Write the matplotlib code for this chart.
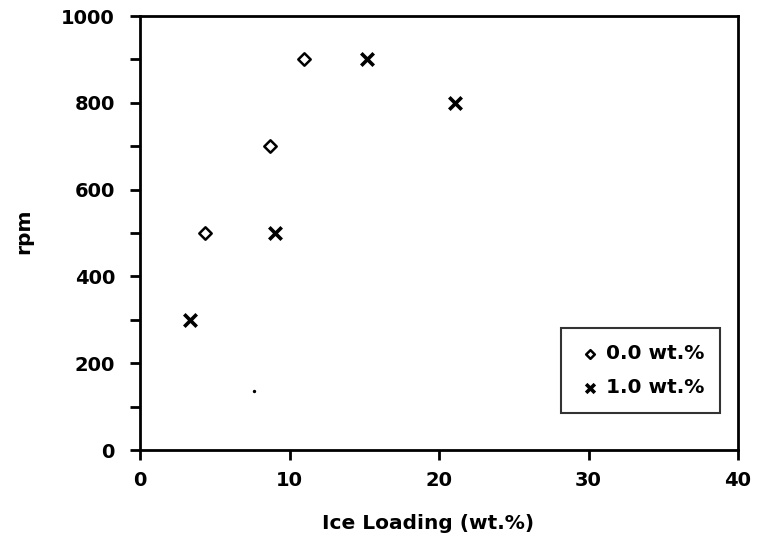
import matplotlib
matplotlib.use("Agg")
import matplotlib.pyplot as plt
from matplotlib.ticker import MultipleLocator

plt.rcParams["font.family"] = ["DejaVu Sans"]
plt.rcParams["font.weight"] = "bold"

# 0.0 wt.% series (diamonds)
x_00 = [4.35, 8.7, 11.0]
y_00 = [500, 700, 900]
# 1.0 wt.% series (crosses)
x_10 = [3.35, 9.0, 15.2, 21.1]
y_10 = [300, 500, 900, 800]
# small speck visible in the scan
x_speck = [7.6]
y_speck = [137]

fig = plt.figure(figsize=(7.58, 5.4), dpi=100)
ax = fig.add_axes([140 / 758, 1 - 450 / 540, 598 / 758, 434 / 540])

ax.scatter(x_00, y_00, marker="D", s=40, facecolors="white",
           edgecolors="black", linewidths=1.8, label="0.0 wt.%", zorder=3)
ax.scatter(x_10, y_10, marker="x", s=80, color="black",
           linewidths=2.6, label="1.0 wt.%", zorder=3)
ax.scatter(x_speck, y_speck, marker="o", s=2, color="black", zorder=3)

ax.set_xlim(0, 40)
ax.set_ylim(0, 1000)
ax.xaxis.set_major_locator(MultipleLocator(10))
ax.yaxis.set_major_locator(MultipleLocator(200))
ax.yaxis.set_minor_locator(MultipleLocator(100))
ax.tick_params(axis="both", which="both", direction="out", width=2,
               labelsize=14, top=False, right=False)
ax.tick_params(axis="both", which="major", length=7)
ax.tick_params(axis="x", which="major", pad=8)
ax.tick_params(axis="y", which="major", pad=11)
ax.tick_params(axis="y", which="minor", length=7)
for lab in ax.get_xticklabels() + ax.get_yticklabels():
    lab.set_fontweight("bold")
for sp in ax.spines.values():
    sp.set_linewidth(2)

ax.set_xlabel("Ice Loading (wt.%)", fontsize=14.5, fontweight="bold")
ax.xaxis.set_label_coords((428 - 140) / 598, -(514 - 450) / 434)
ax.set_ylabel("rpm", fontsize=14.5, fontweight="bold")
ax.yaxis.set_label_coords(-(140 - 33) / 598, (450 - 231) / 434)

leg = ax.legend(loc="lower right", bbox_to_anchor=(0.97, 0.085),
                borderaxespad=0, frameon=True, fancybox=False,
                edgecolor="black", fontsize=14.5, handletextpad=0.1,
                handlelength=1.3, borderpad=0.8, labelspacing=0.75,
                markerscale=0.7)
leg.get_frame().set_linewidth(1.5)
for t in leg.get_texts():
    t.set_fontweight("bold")

fig.savefig("out.png", dpi=100)
